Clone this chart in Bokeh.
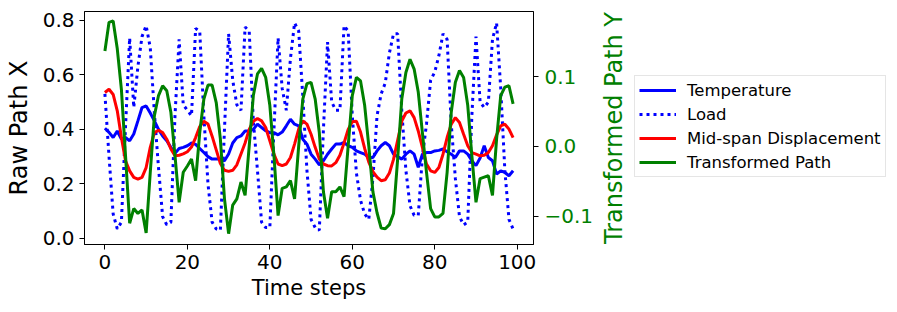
from bokeh.plotting import figure
from bokeh.layouts import row
from bokeh.models import Range1d, LinearAxis, Legend, LegendItem, FixedTicker, CustomJSTickFormatter
from bokeh.embed import file_html
from bokeh.resources import INLINE

steps = list(range(100))

temperature = [0.404, 0.389, 0.370, 0.394, 0.364, 0.370, 0.358, 0.383, 0.431, 0.480,
               0.486, 0.460, 0.431, 0.400, 0.376, 0.358, 0.334, 0.312, 0.330, 0.334,
               0.340, 0.350, 0.345, 0.330, 0.315, 0.300, 0.291, 0.291, 0.291, 0.285,
               0.310, 0.350, 0.370, 0.376, 0.394, 0.394, 0.400, 0.419, 0.407, 0.395,
               0.388, 0.388, 0.380, 0.390, 0.413, 0.437, 0.419, 0.413, 0.364, 0.346,
               0.309, 0.291, 0.270, 0.285, 0.309, 0.328, 0.346, 0.346, 0.352, 0.340,
               0.334, 0.321, 0.315, 0.309, 0.297, 0.297, 0.321, 0.340, 0.352, 0.340,
               0.309, 0.300, 0.291, 0.309, 0.321, 0.309, 0.261, 0.309, 0.315, 0.315,
               0.321, 0.323, 0.328, 0.318, 0.309, 0.297, 0.321, 0.321, 0.309, 0.285,
               0.267, 0.295, 0.340, 0.297, 0.285, 0.236, 0.248, 0.242, 0.230, 0.248]

load = [0.53, 0.30, 0.09, 0.035, 0.06, 0.41, 0.735, 0.48, 0.63, 0.74,
        0.78, 0.70, 0.46, 0.26, 0.08, 0.05, 0.06, 0.45, 0.73, 0.49,
        0.47, 0.45, 0.77, 0.76, 0.45, 0.20, 0.06, 0.035, 0.03, 0.40,
        0.75, 0.58, 0.49, 0.47, 0.775, 0.76, 0.43, 0.25, 0.06, 0.04,
        0.04, 0.40, 0.735, 0.55, 0.47, 0.66, 0.79, 0.76, 0.52, 0.25,
        0.07, 0.04, 0.03, 0.40, 0.72, 0.50, 0.47, 0.47, 0.78, 0.76,
        0.45, 0.24, 0.14, 0.09, 0.07, 0.22, 0.45, 0.53, 0.57, 0.68,
        0.75, 0.75, 0.47, 0.25, 0.12, 0.085, 0.085, 0.30, 0.42, 0.58,
        0.61, 0.67, 0.75, 0.73, 0.42, 0.22, 0.08, 0.05, 0.06, 0.45,
        0.74, 0.50, 0.48, 0.50, 0.73, 0.79, 0.55, 0.25, 0.07, 0.035]

displacement = [0.535, 0.547, 0.528, 0.468, 0.370, 0.285, 0.248, 0.224, 0.218, 0.224,
                0.260, 0.334, 0.388, 0.397, 0.388, 0.364, 0.328, 0.303, 0.305, 0.310,
                0.318, 0.335, 0.370, 0.410, 0.430, 0.420, 0.375, 0.325, 0.275, 0.250,
                0.246, 0.250, 0.270, 0.310, 0.350, 0.400, 0.430, 0.440, 0.431, 0.407,
                0.358, 0.309, 0.273, 0.267, 0.273, 0.297, 0.346, 0.401, 0.431, 0.419,
                0.382, 0.334, 0.291, 0.273, 0.267, 0.266, 0.278, 0.305, 0.350, 0.400,
                0.428, 0.430, 0.390, 0.330, 0.280, 0.245, 0.225, 0.212, 0.215, 0.240,
                0.290, 0.360, 0.430, 0.460, 0.468, 0.443, 0.394, 0.334, 0.273, 0.248,
                0.242, 0.260, 0.309, 0.370, 0.419, 0.443, 0.425, 0.382, 0.340, 0.315,
                0.309, 0.303, 0.305, 0.315, 0.340, 0.380, 0.413, 0.419, 0.401, 0.370]

transformed = [0.137, 0.178, 0.180, 0.140, 0.082, -0.013, -0.110, -0.089, -0.096, -0.091,
               -0.124, -0.037, 0.044, 0.073, 0.087, 0.080, 0.049, -0.013, -0.080, -0.037,
               -0.028, -0.018, -0.049, 0.020, 0.068, 0.088, 0.088, 0.063, 0.011, -0.075,
               -0.125, -0.084, -0.075, -0.051, -0.070, 0.001, 0.073, 0.104, 0.112, 0.099,
               0.059, -0.013, -0.099, -0.060, -0.058, -0.049, -0.075, 0.001, 0.068, 0.090,
               0.092, 0.068, 0.020, -0.065, -0.103, -0.065, -0.065, -0.058, -0.072, 0.001,
               0.073, 0.099, 0.094, 0.059, 0.001, -0.065, -0.095, -0.117, -0.118, -0.112,
               -0.096, -0.018, 0.068, 0.106, 0.125, 0.111, 0.078, 0.020, -0.037, -0.089,
               -0.101, -0.101, -0.096, -0.037, 0.049, 0.092, 0.109, 0.099, 0.059, -0.013,
               -0.080, -0.046, -0.044, -0.042, -0.070, 0.011, 0.073, 0.085, 0.087, 0.061]

x_ticks = [0, 20, 40, 60, 80, 100]
left_ticks = [0.0, 0.2, 0.4, 0.6, 0.8]
right_ticks = [-0.1, 0.0, 0.1]
series_labels = ["Temperature", "Load", "Mid-span Displacement", "Transformed Path"]
series_colors = ["blue", "blue", "red", "green"]
series_dash = ["solid", "3 4", "solid", "solid"]

FONT = "DejaVu Sans"

# ---------------- main plot ----------------
p = figure(width=596, height=308, output_backend="svg", toolbar_location=None,
           x_range=Range1d(-4.95, 103.95), y_range=Range1d(-0.022, 0.832),
           min_border_left=84, min_border_right=61, min_border_top=11, min_border_bottom=64)
p.extra_y_ranges = {"y2": Range1d(-0.1405, 0.1935)}
p.grid.visible = False
p.outline_line_color = "black"
p.outline_line_width = 1
p.background_fill_color = "white"
p.border_fill_color = "white"

p.line(steps, temperature, line_color=series_colors[0], line_width=3, line_dash=series_dash[0])
p.line(steps, load, line_color=series_colors[1], line_width=3, line_dash=series_dash[1])
p.line(steps, displacement, line_color=series_colors[2], line_width=3, line_dash=series_dash[2])
p.line(steps, transformed, line_color=series_colors[3], line_width=3, line_dash=series_dash[3],
       y_range_name="y2")

fmt = CustomJSTickFormatter(code="return (tick < 0 ? '\u2212' : '') + Math.abs(tick).toFixed(1);")

ax2 = LinearAxis(y_range_name="y2", ticker=FixedTicker(ticks=right_ticks), formatter=fmt)
p.add_layout(ax2, "right")

p.xaxis.ticker = FixedTicker(ticks=x_ticks)
p.yaxis[0].ticker = FixedTicker(ticks=left_ticks)
p.yaxis[0].formatter = fmt
p.xaxis.axis_label = "Time steps"
p.yaxis[0].axis_label = "Raw Path X"

for ax in [p.xaxis[0], p.yaxis[0], ax2]:
    ax.major_label_text_font = FONT
    ax.major_label_text_font_size = "20px"
    ax.major_label_text_color = "black"
    ax.axis_label_text_font = FONT
    ax.axis_label_text_font_style = "normal"
    ax.axis_label_text_color = "black"
    ax.major_tick_out = 5
    ax.major_tick_in = 0
    ax.minor_tick_out = 0
    ax.minor_tick_in = 0
    ax.major_label_standoff = 5
    ax.axis_line_color = "black"
    ax.major_tick_line_color = "black"

p.xaxis.axis_label_text_font_size = "21px"
p.xaxis.axis_label_standoff = 4
p.yaxis[0].axis_label_text_font_size = "24px"
p.yaxis[0].axis_label_standoff = 7
ax2.major_label_text_color = "green"
ax2.major_label_standoff = 6

# ---------------- right side: axis title + legend ----------------
p2 = figure(width=299, height=308, output_backend="svg", toolbar_location=None,
            x_range=Range1d(0, 1), y_range=Range1d(0, 1),
            min_border_left=34, min_border_right=0, min_border_top=11, min_border_bottom=64)
p2.grid.visible = False
p2.outline_line_color = None
p2.xaxis.visible = False
p2.border_fill_color = "white"
p2.yaxis.ticker = FixedTicker(ticks=[])
p2.yaxis.axis_label = "Transformed Path Y"
p2.yaxis.axis_label_text_font = FONT
p2.yaxis.axis_label_text_font_size = "24px"
p2.yaxis.axis_label_text_font_style = "normal"
p2.yaxis.axis_label_text_color = "green"
p2.yaxis.axis_label_standoff = 4
p2.yaxis.axis_line_color = None
p2.yaxis.major_tick_line_color = None
p2.yaxis.minor_tick_line_color = None
p2.yaxis.major_tick_out = 0
p2.yaxis.major_label_standoff = 0
p2.yaxis.major_label_text_font_size = "0px"

nan = float("nan")
items = []
for lab, col, dash in zip(series_labels, series_colors, series_dash):
    rr = p2.line([nan], [nan], line_color=col, line_width=3, line_dash=dash)
    items.append(LegendItem(label=lab, renderers=[rr]))

legend = Legend(items=items, location=(3, 67))
legend.glyph_width = 37
legend.glyph_height = 20
legend.label_height = 20
legend.spacing = 4
legend.padding = 4
legend.margin = 0
legend.label_standoff = 11
legend.label_text_font = FONT
legend.label_text_font_size = "16.5px"
legend.label_text_color = "black"
legend.border_line_color = "#cccccc"
legend.border_line_width = 1
legend.background_fill_alpha = 0.8
p2.add_layout(legend)

open("out.html", "w").write(file_html(row(p, p2), INLINE))
